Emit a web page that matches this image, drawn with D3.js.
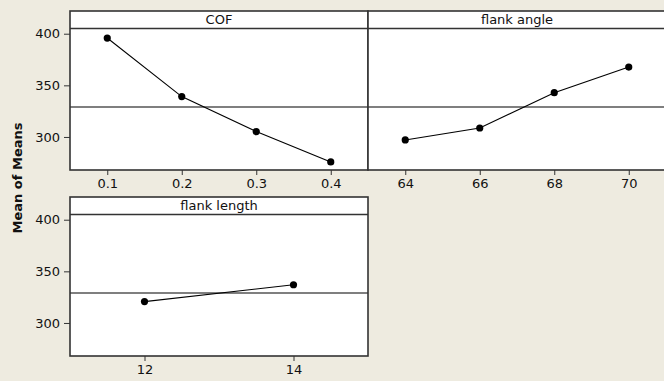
<!DOCTYPE html>
<html><head><meta charset="utf-8">
<script src="https://cdn.jsdelivr.net/npm/d3@7"></script>
<style>
html,body{margin:0;padding:0;background:#EEEBE0;}
svg{display:block;}
text{font-family:"DejaVu Sans",Verdana,sans-serif;fill:#111;}
</style></head>
<body>
<svg id="chart" width="664" height="381"></svg>
<script>
const cofLevels = ["0.1", "0.2", "0.3", "0.4"];
const cofMeans = [395.8, 339.1, 305.2, 275.8];
const angleLevels = ["64", "66", "68", "70"];
const angleMeans = [297.1, 308.7, 342.9, 367.7];
const lengthLevels = ["12", "14"];
const lengthMeans = [320.7, 337.0];
const yTicks = [300, 350, 400];
const grandMean = 329.0;
const yDomain = [268, 422];
const yLabel = "Mean of Means";

const svg = d3.select("#chart");
svg.append("rect").attr("width", 664).attr("height", 381).attr("fill", "#EEEBE0");

const W = 298, H = 159, stripH = 17.5;
const panels = [
  {title: "COF", levels: cofLevels, means: cofMeans, x0: 70, y0: 11, leftAxis: true},
  {title: "flank angle", levels: angleLevels, means: angleMeans, x0: 368, y0: 11, leftAxis: false},
  {title: "flank length", levels: lengthLevels, means: lengthMeans, x0: 70, y0: 197, leftAxis: true}
];

panels.forEach(p => {
  const g = svg.append("g").attr("transform", `translate(${p.x0},${p.y0})`);
  const x = d3.scalePoint().domain(p.levels).range([0, W]).padding(0.5);
  const y = d3.scaleLinear().domain(yDomain).range([H, 0]);

  g.append("rect").attr("width", W).attr("height", H).attr("fill", "#ffffff");

  // grand mean reference line
  g.append("line").attr("x1", 0).attr("x2", W)
    .attr("y1", y(grandMean)).attr("y2", y(grandMean))
    .attr("stroke", "#555").attr("stroke-width", 1.3);

  // strip
  g.append("line").attr("x1", 0).attr("x2", W).attr("y1", stripH).attr("y2", stripH)
    .attr("stroke", "#333").attr("stroke-width", 1.3);
  g.append("text").attr("x", W / 2).attr("y", stripH / 2 + 4.5)
    .attr("text-anchor", "middle").attr("font-size", 13).text(p.title);

  // data line and points
  const pts = p.levels.map((l, i) => [x(l), y(p.means[i])]);
  g.append("path").attr("d", d3.line()(pts)).attr("fill", "none")
    .attr("stroke", "#000").attr("stroke-width", 1.1);
  g.selectAll("circle.pt").data(pts).join("circle").attr("class", "pt")
    .attr("cx", d => d[0]).attr("cy", d => d[1]).attr("r", 3.6).attr("fill", "#000");

  // border
  g.append("rect").attr("width", W).attr("height", H).attr("fill", "none")
    .attr("stroke", "#333").attr("stroke-width", 1.6);

  // x axis
  const xa = g.append("g").attr("transform", `translate(0,${H})`)
    .call(d3.axisBottom(x).tickSize(5).tickPadding(4));
  xa.select(".domain").remove();
  xa.selectAll("line").attr("stroke", "#333");
  xa.selectAll("text").attr("font-size", 13).attr("fill", "#111");

  if (p.leftAxis) {
    const ya = g.append("g").call(d3.axisLeft(y).tickValues(yTicks).tickSize(6).tickPadding(4));
    ya.select(".domain").remove();
    ya.selectAll("line").attr("stroke", "#333");
    ya.selectAll("text").attr("font-size", 13).attr("fill", "#111");
  }
});

svg.append("text").attr("transform", "translate(22,178) rotate(-90)")
  .attr("text-anchor", "middle").attr("font-size", 13).attr("font-weight", "bold")
  .text(yLabel);
</script>
</body></html>
